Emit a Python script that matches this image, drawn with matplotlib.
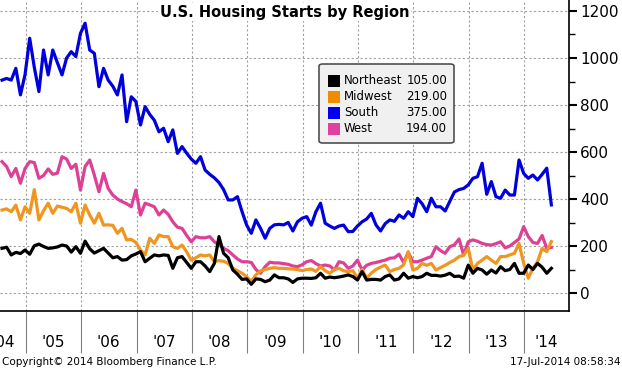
import matplotlib
matplotlib.use("Agg")
import matplotlib.pyplot as plt
import matplotlib.patches as patches
import numpy as np

# monthly housing starts (thousands, SAAR), Jul 2004 .. Jun 2014
start_year = 2004.572
northeast = [190, 195, 162, 173, 168, 183, 165, 201, 208, 198, 190, 192, 196, 204, 200, 174,
             197, 169, 221, 188, 170, 180, 190, 170, 150, 155, 140, 142, 158, 166, 176, 133,
             148, 162, 158, 162, 160, 105, 150, 155, 130, 105, 133, 133, 115, 91, 126, 240,
             169, 150, 98, 80, 58, 60, 37, 60, 58, 48, 55, 77, 65, 65, 60, 45,
             60, 63, 63, 62, 65, 84, 63, 68, 65, 68, 72, 77, 70, 55, 91, 55,
             58, 58, 55, 70, 77, 55, 60, 84, 63, 70, 65, 70, 84, 75, 75, 72,
             76, 84, 70, 72, 63, 119, 84, 105, 98, 80, 98, 85, 112, 95, 100, 126,
             84, 84, 119, 100, 126, 110, 84, 105]
midwest = [353, 358, 346, 374, 311, 367, 339, 440, 311, 350, 382, 339, 370, 365, 360, 346,
           382, 297, 374, 332, 297, 339, 289, 290, 288, 254, 275, 226, 228, 215, 183, 162,
           233, 211, 247, 240, 240, 197, 190, 204, 175, 140, 150, 162, 158, 162, 133, 138,
           135, 126, 105, 95, 84, 69, 50, 77, 94, 100, 105, 108, 105, 105, 103, 102,
           100, 95, 100, 102, 92, 112, 95, 84, 100, 105, 95, 90, 95, 63, 100, 63,
           85, 100, 110, 119, 91, 100, 105, 120, 176, 98, 105, 126, 118, 126, 98, 108,
           118, 130, 140, 155, 160, 190, 98, 126, 140, 155, 140, 126, 155, 155, 162, 169,
           211, 126, 63, 105, 133, 190, 176, 219]
south = [906, 913, 906, 956, 843, 930, 1084, 960, 857, 1034, 928, 1034, 980, 928, 1000, 1027,
         1006, 1105, 1148, 1034, 1020, 878, 956, 906, 880, 843, 928, 729, 835, 815, 715, 793,
         760, 735, 686, 701, 644, 694, 594, 623, 595, 570, 552, 580, 523, 505, 490, 470,
         440, 396, 396, 410, 346, 289, 254, 311, 275, 233, 275, 290, 292, 290, 300, 264,
         303, 318, 325, 289, 346, 382, 297, 285, 275, 285, 289, 261, 262, 285, 303, 315,
         339, 290, 264, 295, 311, 305, 332, 318, 346, 325, 403, 380, 346, 403, 367, 367,
         349, 390, 430, 440, 445, 460, 488, 495, 552, 420, 474, 410, 403, 438, 417, 417,
         566, 509, 488, 502, 481, 505, 531, 375]
west = [559, 538, 495, 530, 467, 530, 559, 555, 488, 500, 528, 505, 510, 580, 570, 530,
        548, 438, 538, 566, 502, 431, 509, 445, 417, 400, 389, 380, 367, 438, 332, 382,
        375, 367, 332, 353, 335, 303, 280, 275, 245, 218, 240, 235, 235, 240, 218, 205,
        190, 180, 162, 145, 133, 133, 130, 100, 84, 112, 131, 128, 128, 125, 122, 115,
        112, 120, 133, 138, 125, 115, 119, 115, 98, 133, 128, 105, 115, 140, 98, 118,
        126, 130, 135, 140, 148, 150, 165, 130, 173, 133, 133, 140, 148, 155, 197, 180,
        169, 197, 205, 230, 162, 218, 226, 220, 211, 206, 204, 210, 218, 192, 200, 215,
        230, 282, 240, 215, 211, 245, 190, 194]

names = ["Northeast", "Midwest", "South", "West"]
last_values = ["105.00", "219.00", "375.00", "194.00"]
colors = ["#000000", "#f0961e", "#0000dc", "#dc4196"]
legend_colors = ["#000000", "#f08c00", "#0000f0", "#e040a0"]

years = list(range(2005, 2015))
year_labels = ["'04", "'05", "'06", "'07", "'08", "'09", "'10", "'11", "'12", "'13", "'14"]
label_pos = [2004.6] + [y + 0.5 for y in range(2005, 2014)] + [2014.4]

x = start_year + np.arange(len(south)) / 12.0

fig = plt.figure(figsize=(6.22, 3.71), dpi=100)
ax = fig.add_axes([0.0, 0.1617, 569 / 622, 1 - 0.1617])

# draw order: west, midwest, northeast, south
ax.plot(x, west, color=colors[3], lw=2.3, zorder=3)
ax.plot(x, midwest, color=colors[1], lw=2.3, zorder=4)
ax.plot(x, northeast, color=colors[0], lw=2.3, zorder=5)
ax.plot(x, south, color=colors[2], lw=2.3, zorder=6)

ax.set_xlim(2004.536, 2014.807)
ax.set_ylim(-76.6, 1246.8)

# y axis on the right
ax.yaxis.tick_right()
ax.set_yticks(range(0, 1201, 200))
ax.set_yticks(range(100, 1200, 200), minor=True)
ax.tick_params(axis="y", which="major", direction="out", length=6, width=1.5,
               labelsize=11, pad=2)
ax.tick_params(axis="y", which="minor", direction="out", length=4, width=1)

# x axis: long separators at year starts, labels mid-year
ax.set_xticks(years)
ax.set_xticklabels([])
ax.set_xticks(label_pos, minor=True)
ax.set_xticklabels(year_labels, minor=True)
ax.tick_params(axis="x", which="major", direction="out", length=30, width=0.8,
               color="#808080")
ax.tick_params(axis="x", which="minor", length=0, pad=17, labelsize=11)

ax.grid(True, which="major", color="#a0a0a0", linestyle=(0, (2, 2)), lw=0.8)

for side in ["left", "top"]:
    ax.spines[side].set_visible(False)
ax.spines["right"].set_linewidth(1.2)
ax.spines["bottom"].set_linewidth(1.2)

ax.text(0.5, 0.985, "U.S. Housing Starts by Region", transform=ax.transAxes,
        ha="center", va="top", fontsize=10.5, fontweight="bold",
        bbox=dict(facecolor="white", edgecolor="none", pad=1), zorder=10)

# legend box (figure pixel coords -> fraction)
W, H = 622.0, 371.0
box = patches.FancyBboxPatch((319 / W, 1 - 143 / H), 135 / W, 79 / H,
                             boxstyle="round,pad=0,rounding_size=0.006",
                             transform=fig.transFigure, facecolor="#f0f0f0",
                             edgecolor="#505050", lw=1.2, zorder=10)
fig.patches.append(box)
rows_y = [81, 97, 113, 129]
for name, val, c, ry in zip(names, last_values, legend_colors, rows_y):
    fig.patches.append(patches.Rectangle((328 / W, 1 - (ry + 6) / H), 12 / W, 12 / H,
                                         transform=fig.transFigure, facecolor=c,
                                         edgecolor="none", zorder=11))
    fig.text(344 / W, 1 - ry / H, name, ha="left", va="center", fontsize=8.5, zorder=12)
    fig.text(447 / W, 1 - ry / H, val, ha="right", va="center", fontsize=8.5, zorder=12)

fig.text(2 / W, 1 - 362 / H, "Copyright\u00a9 2014 Bloomberg Finance L.P.",
         ha="left", va="center", fontsize=7.5)
fig.text(620 / W, 1 - 362 / H, "17-Jul-2014 08:58:34", ha="right", va="center",
         fontsize=7.5)

fig.savefig("out.png", dpi=100)
